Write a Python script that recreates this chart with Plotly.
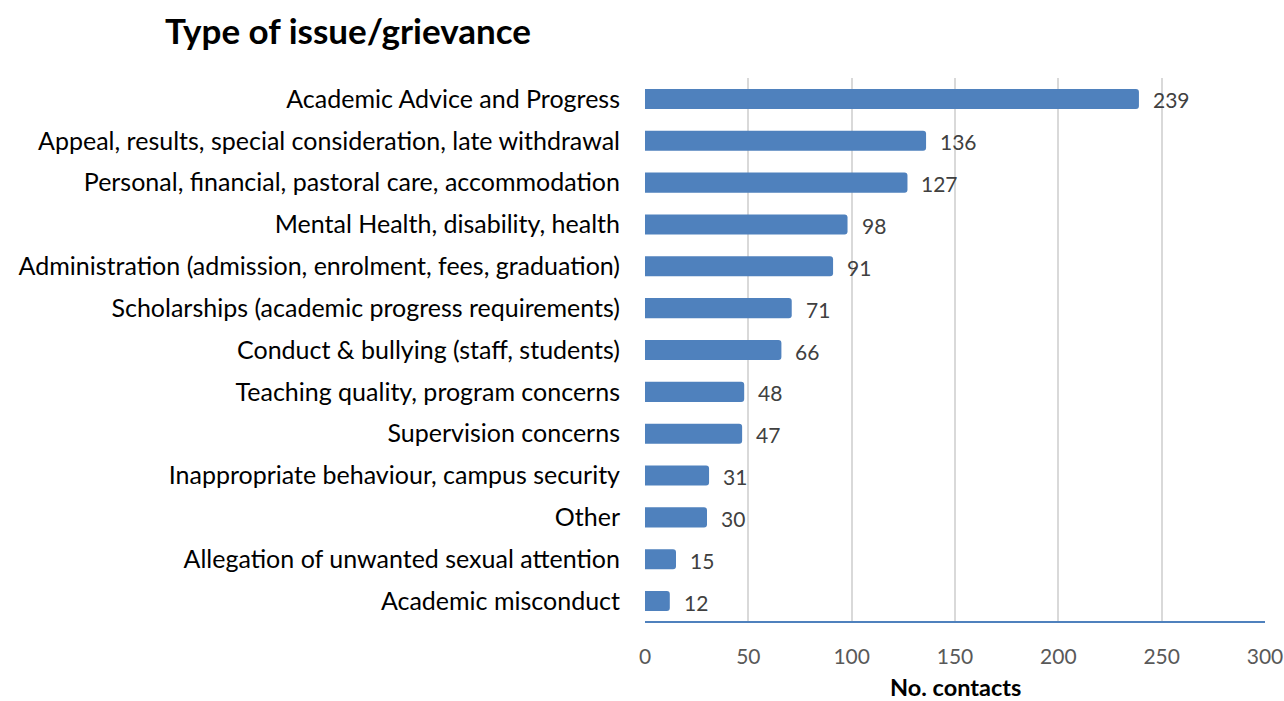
import plotly.graph_objects as go

categories = [
    "Academic Advice and Progress",
    "Appeal, results, special consideration, late withdrawal",
    "Personal, financial, pastoral care, accommodation",
    "Mental Health, disability, health",
    "Administration (admission, enrolment, fees, graduation)",
    "Scholarships (academic progress requirements)",
    "Conduct & bullying (staff, students)",
    "Teaching quality, program concerns",
    "Supervision concerns",
    "Inappropriate behaviour, campus security",
    "Other",
    "Allegation of unwanted sexual attention",
    "Academic misconduct",
]
values = [239, 136, 127, 98, 91, 71, 66, 48, 47, 31, 30, 15, 12]
x_ticks = [0, 50, 100, 150, 200, 250, 300]

FONT = "Lato, Open Sans, sans-serif"

fig = go.Figure(go.Bar(
    y=categories,
    x=values,
    orientation="h",
    width=0.48,
    marker=dict(color="#4F81BD", line=dict(width=0), cornerradius=3),
))

for c, v in zip(categories, values):
    fig.add_annotation(x=v, y=c, xref="x", yref="y", text=str(v), showarrow=False,
                       xanchor="left", yanchor="middle", xshift=12, yshift=-1,
                       font=dict(family=FONT, size=21, color="#404040"))

# x-axis title
fig.add_annotation(x=0.5, y=-0.12, xref="paper", yref="paper", text="<b>No. contacts</b>",
                   showarrow=False, xanchor="center", yanchor="middle", borderpad=0,
                   font=dict(family=FONT, size=23.5, color="black"))

fig.update_layout(
    width=1284, height=701,
    paper_bgcolor="white", plot_bgcolor="white",
    margin=dict(l=645, r=19, t=78, b=79),
    showlegend=False,
    title=dict(text="<b>Type of issue/grievance</b>", x=165/1284, xanchor="left",
               y=1 - 32/701, yanchor="middle",
               font=dict(family=FONT, size=35, color="black")),
    xaxis=dict(range=[0, 300], tickvals=x_ticks, showgrid=True, gridcolor="#D9D9D9",
               gridwidth=1.5, zeroline=False, showline=False, automargin=False,
               tickfont=dict(family=FONT, size=21, color="#595959"), ticks="",
               ticklabelstandoff=20),
    yaxis=dict(autorange="reversed", categoryorder="array", categoryarray=categories,
               tickfont=dict(family=FONT, size=25, color="black"), ticks="",
               automargin=False,
               ticklabelstandoff=24, showline=False, showgrid=False),
)

# bottom axis line in blue
fig.add_shape(type="line", xref="paper", yref="paper", x0=0, x1=1, y0=0, y1=0,
              line=dict(color="#4F81BD", width=2))

fig.write_html("out.html", config={"displayModeBar": False},
               post_script="document.body.style.margin='0';document.body.style.overflow='hidden';")
